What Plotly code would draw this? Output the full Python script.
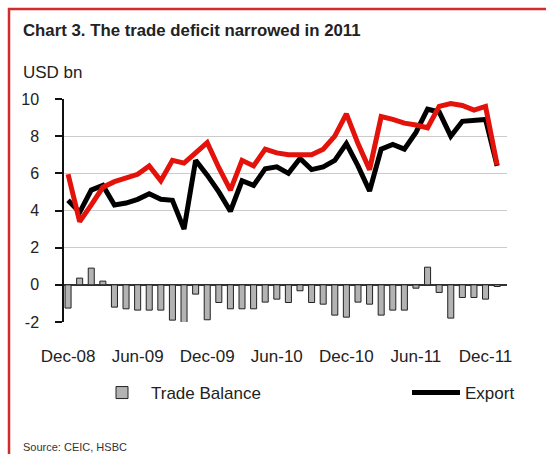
import plotly.graph_objects as go

# ---- data (USD bn), monthly Dec-08 .. Jan-12 ----
months = ["Dec-08",
          "Jan-09", "Feb-09", "Mar-09", "Apr-09", "May-09", "Jun-09",
          "Jul-09", "Aug-09", "Sep-09", "Oct-09", "Nov-09", "Dec-09",
          "Jan-10", "Feb-10", "Mar-10", "Apr-10", "May-10", "Jun-10",
          "Jul-10", "Aug-10", "Sep-10", "Oct-10", "Nov-10", "Dec-10",
          "Jan-11", "Feb-11", "Mar-11", "Apr-11", "May-11", "Jun-11",
          "Jul-11", "Aug-11", "Sep-11", "Oct-11", "Nov-11", "Dec-11",
          "Jan-12"]

trade_balance = [-1.25, 0.36, 0.90, 0.20, -1.20, -1.29, -1.36,
                 -1.36, -1.36, -1.90, -2.33, -0.50, -1.88,
                 -0.95, -1.29, -1.29, -1.29, -0.93, -0.77,
                 -0.95, -0.32, -0.95, -1.04, -1.63, -1.74,
                 -0.93, -1.04, -1.63, -1.36, -1.36, -0.18,
                 0.95, -0.41, -1.79, -0.68, -0.68, -0.77,
                 -0.09]

exports = [4.55, 3.90, 5.10, 5.35, 4.30, 4.40, 4.60,
           4.90, 4.60, 4.55, 3.00, 6.70, 5.90,
           5.00, 3.96, 5.60, 5.35, 6.25, 6.35,
           6.00, 6.80, 6.20, 6.35, 6.70, 7.60,
           6.40, 5.05, 7.30, 7.55, 7.30, 8.20,
           9.45, 9.30, 8.00, 8.80, 8.85, 8.90,
           6.40]

imports = [5.95, 3.40, 4.30, 5.25, 5.55, 5.75, 5.95,
           6.40, 5.60, 6.70, 6.55, 7.10, 7.65,
           6.30, 5.10, 6.70, 6.40, 7.30, 7.10,
           7.00, 7.00, 7.00, 7.30, 8.00, 9.20,
           7.60, 6.20, 9.05, 8.90, 8.70, 8.60,
           8.45, 9.60, 9.75, 9.65, 9.40, 9.60,
           6.45]

x_tick_labels = ["Dec-08", "Jun-09", "Dec-09", "Jun-10", "Dec-10", "Jun-11", "Dec-11"]
y_tick_values = [-2, 0, 2, 4, 6, 8, 10]
y_tick_labels = ["-2", "0", "2", "4", "6", "8", "10"]

# ---- layout geometry (pixels) ----
W, H = 546, 454
L, R, T, B = 64, 39, 99, 132
PW, PH = W - L - R, H - T - B


def px(xp):
    return (xp - L) / PW


def py(yp):
    return (H - B - yp) / PH


FONT = "Liberation Sans, Arial, sans-serif"

fig = go.Figure()
fig.add_trace(go.Bar(
    x=months, y=trade_balance, name="Trade Balance",
    marker=dict(color="#b3b3b3", line=dict(color="#222222", width=1)),
    legend="legend",
))
fig.add_trace(go.Scatter(
    x=months, y=exports, name="Export", mode="lines",
    line=dict(color="#000000", width=5),
    legend="legend2",
))
fig.add_trace(go.Scatter(
    x=months, y=imports, name="Import", mode="lines",
    line=dict(color="#e3120b", width=5),
    showlegend=False,
))

fig.update_layout(
    width=W, height=H,
    margin=dict(l=L, r=R, t=T, b=B, autoexpand=False),
    paper_bgcolor="white", plot_bgcolor="white",
    font=dict(family=FONT, color="#222222"),
    bargap=0.48,
    xaxis=dict(
        type="category", categoryorder="array", categoryarray=months,
        range=[-0.35, 37.85],
        tickmode="array", tickvals=x_tick_labels, ticktext=x_tick_labels,
        showgrid=False, showline=False, ticks="", zeroline=False,
        tickfont=dict(size=17, color="#222222"),
        ticklabelstandoff=22,
    ),
    yaxis=dict(
        range=[-2, 10],
        tickmode="array", tickvals=y_tick_values, ticktext=y_tick_labels,
        showgrid=True, gridcolor="#cccccc", gridwidth=1,
        zeroline=True, zerolinecolor="#333333", zerolinewidth=1.5,
        showline=True, linecolor="#111111", linewidth=1.5,
        ticks="outside", ticklen=7, tickcolor="#111111", tickwidth=1.5,
        tickfont=dict(size=16, color="#222222"),
        ticklabelstandoff=13,
    ),
    legend=dict(
        orientation="h", x=px(93), xanchor="left", y=py(393), yanchor="middle",
        font=dict(size=17, color="#222222"), bgcolor="rgba(0,0,0,0)",
        itemwidth=48,
    ),
    legend2=dict(
        orientation="h", x=px(407), xanchor="left", y=py(393), yanchor="middle",
        font=dict(size=17, color="#222222"), bgcolor="rgba(0,0,0,0)",
        itemwidth=48,
    ),
    showlegend=True,
    shapes=[dict(
        type="rect", xref="paper", yref="paper",
        x0=px(9), x1=px(620), y0=py(560), y1=py(9),
        line=dict(color="#d22b2b", width=2.5), fillcolor="rgba(0,0,0,0)",
        layer="below",
    )],
    annotations=[
        dict(text="<b>Chart 3. The trade deficit narrowed in 2011</b>",
             xref="paper", yref="paper", x=px(21), y=py(30),
             xanchor="left", yanchor="middle", showarrow=False,
             font=dict(size=16.8, color="#222222", family=FONT)),
        dict(text="USD bn", xref="paper", yref="paper", x=px(21), y=py(72),
             xanchor="left", yanchor="middle", showarrow=False,
             font=dict(size=17, color="#222222", family=FONT)),
        dict(text="Source: CEIC, HSBC", xref="paper", yref="paper",
             x=px(21), y=py(447), xanchor="left", yanchor="middle",
             showarrow=False, font=dict(size=11, color="#333333", family=FONT)),
    ],
)

fig.write_html("out.html")
